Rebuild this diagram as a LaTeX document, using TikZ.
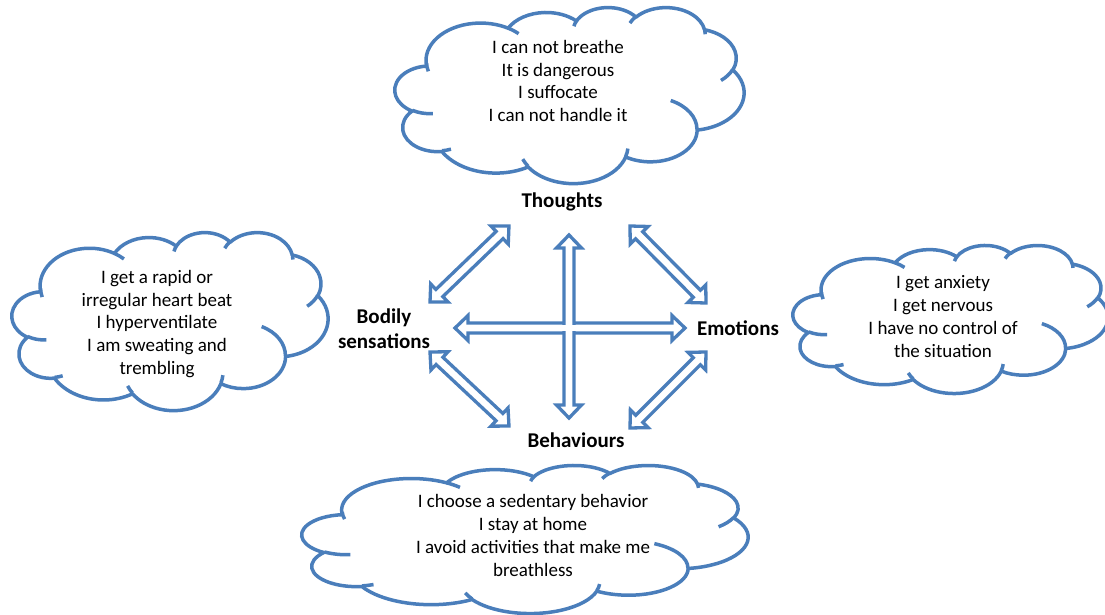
\documentclass[tikz,border=0pt]{standalone}
\usepackage{fontspec}
\setmainfont{Carlito}
\definecolor{cblue}{HTML}{4A7EBB}

% PowerPoint-like cloud geometry (units of 1000 in a 43.2 x 43.2 box)
\newcommand\defcloudarc[5]{%
  \pgfmathsetmacro\cloudta{atan2((#2)*sin(#4),(#3)*cos(#4))}%
  \pgfmathsetmacro\cloudtb{atan2((#2)*sin((#4)+(#5)),(#3)*cos((#4)+(#5)))}%
  \pgfmathsetmacro\cloudtd{mod((\cloudtb)-(\cloudta)+720,360)}%
  \expandafter\xdef\csname #1\endcsname{arc[x radius=#2,y radius=#3,start angle=\cloudta,delta angle=\cloudtd]}%
}
\defcloudarc{CLa}{6.753}{9.190}{-190.4875}{123.7805}
\defcloudarc{CLb}{5.333}{7.267}{-144.1024}{89.9452}
\defcloudarc{CLc}{4.365}{5.945}{-145.8079}{99.7230}
\defcloudarc{CLd}{4.857}{6.595}{-130.9861}{117.2417}
\defcloudarc{CLe}{5.333}{7.273}{-78.7089}{109.0269}
\defcloudarc{CLf}{6.775}{9.220}{-46.2673}{130.2690}
\defcloudarc{CLg}{5.785}{7.867}{0.6250}{114.0333}
\defcloudarc{CLh}{6.752}{9.215}{22.4516}{115.1726}
\defcloudarc{CLi}{7.720}{10.543}{66.2426}{75.7110}
\defcloudarc{CLj}{4.360}{5.918}{-274.9421}{146.7356}
\defcloudarc{CLk}{4.345}{5.945}{-246.8285}{152.5171}
\defcloudarc{CIa}{4.345}{5.945}{86.7420}{26.4295}
\defcloudarc{CIb}{4.360}{5.918}{73.6105}{11.4475}
\defcloudarc{CIc}{6.752}{9.215}{137.6242}{14.0811}
\defcloudarc{CId}{6.752}{9.215}{6.4533}{15.9984}
\defcloudarc{CIe}{5.785}{7.867}{-70.2924}{70.9174}
\defcloudarc{CIf}{5.333}{7.273}{30.3180}{27.7515}
\defcloudarc{CIg}{4.857}{6.595}{-13.7443}{14.8589}
\defcloudarc{CIh}{4.857}{6.595}{-149.1815}{18.1954}
\defcloudarc{CIi}{4.365}{5.945}{-163.4943}{17.6864}
\defcloudarc{CIj}{6.753}{9.190}{-66.7070}{12.3194}
\defcloudarc{CIk}{6.753}{9.190}{159.7630}{17.1655}

\tikzset{
  cloudline/.style={draw=cblue, line width=3.5pt, fill=white, line join=round},
  cloudinner/.style={draw=cblue, line width=3.5pt},
  blockarrow/.style={draw=cblue, fill=white, line width=3.3pt, line join=miter},
  cloudtext/.style={align=center, font=\fontsize{19}{22.8}\selectfont, inner sep=0pt},
  lbl/.style={font=\bfseries\fontsize{21}{25}\selectfont, inner sep=0pt},
}

% #1 left, #2 top, #3 width, #4 height (in px = pt)
\newcommand\cloudshape[4]{%
  \begin{scope}[shift={(#1,#2)}, x={(#3pt/43.2,0pt)}, y={(0pt,-#4pt/43.2)}]
    \draw[cloudline] (3.900,14.370) \CLa \CLb \CLc \CLd \CLe \CLf \CLg \CLh \CLi \CLj \CLk -- cycle;
    \draw[cloudinner] (4.693,26.177) \CIa (6.928,34.899) \CIb (16.478,39.090) \CIc
      (28.827,34.751) \CId (34.129,22.954) \CIe (41.798,15.354) \CIf
      (38.324,5.426) \CIg (29.078,3.952) \CIh (22.141,4.720) \CIi
      (14.000,5.192) \CIj (4.127,15.789) \CIk;
  \end{scope}}

\def\arrl{13pt}\def\arrh{12.5pt}\def\arrs{5pt}
% block double arrow between two named coordinates
\newcommand\dblarrow[2]{%
  \pgfpointdiff{\pgfpointanchor{#1}{center}}{\pgfpointanchor{#2}{center}}%
  \pgfgetlastxy{\arrdx}{\arrdy}%
  \pgfmathsetmacro\arrlen{veclen(\arrdx,\arrdy)}%
  \pgfmathsetmacro\arrang{atan2(\arrdy,\arrdx)}%
  \begin{scope}[shift={(#1)}, rotate=\arrang]
    \draw[blockarrow] (0pt,0pt) -- (\arrl,\arrh) -- (\arrl,\arrs)
      -- (\arrlen pt-\arrl,\arrs) -- (\arrlen pt-\arrl,\arrh) -- (\arrlen pt,0pt)
      -- (\arrlen pt-\arrl,-\arrh) -- (\arrlen pt-\arrl,-\arrs)
      -- (\arrl,-\arrs) -- (\arrl,-\arrh) -- cycle;
  \end{scope}}

\begin{document}
\begin{tikzpicture}[x=1pt,y=-1pt]
\useasboundingbox (0,0) rectangle (1105,615);
\fill[white] (0,0) rectangle (1105,615);

% clouds
\cloudshape{395}{7}{349}{176}
\cloudshape{12}{232}{316}{178}
\cloudshape{793}{245}{315}{148}
\cloudshape{302}{465}{446}{148}

\node[cloudtext] (tcloud) at (558,81) {I can not breathe\\It is dangerous\\I suffocate\\I can not handle it};
\node[cloudtext] (scloud) at (157,324) {I get a rapid or\\irregular heart beat\\I hyperventilate\\I am sweating and\\trembling};
\node[cloudtext] (ecloud) at (943,316.5) {I get anxiety\\I get nervous\\I have no control of\\the situation};
\node[cloudtext] (bcloud) at (533,535.5) {I choose a sedentary behavior\\I stay at home\\I avoid activities that make me\\breathless};

% labels
\node[lbl] (thoughts) at (562,202) {Thoughts};
\node[lbl] (emotions) at (738,328) {Emotions};
\node[lbl] (behaviours) at (576,440) {Behaviours};
\node[lbl, align=center] (bodily) at (384,329) {Bodily\\sensations};

% arrow end points
\coordinate (hL) at (455,328);  \coordinate (hR) at (685,328);
\coordinate (vT) at (569,235);  \coordinate (vB) at (569,418);
\coordinate (c0) at (569,328);
\coordinate (tlA) at (430,302); \coordinate (tlB) at (509,226);
\coordinate (trA) at (630,226); \coordinate (trB) at (706,303);
\coordinate (blA) at (430,352); \coordinate (blB) at (509,426);
\coordinate (brA) at (706,352); \coordinate (brB) at (630,428);

\dblarrow{tlA}{tlB}
\dblarrow{trA}{trB}
\dblarrow{blA}{blB}
\dblarrow{brA}{brB}
\dblarrow{hL}{hR}
\dblarrow{vT}{vB}
% open crossing of the two straight arrows
\fill[white] ([xshift=-3.3pt,yshift=-6.7pt]c0) rectangle ([xshift=3.3pt,yshift=6.7pt]c0);
\fill[white] ([xshift=-6.7pt,yshift=-3.3pt]c0) rectangle ([xshift=6.7pt,yshift=3.3pt]c0);
\end{tikzpicture}
\end{document}
